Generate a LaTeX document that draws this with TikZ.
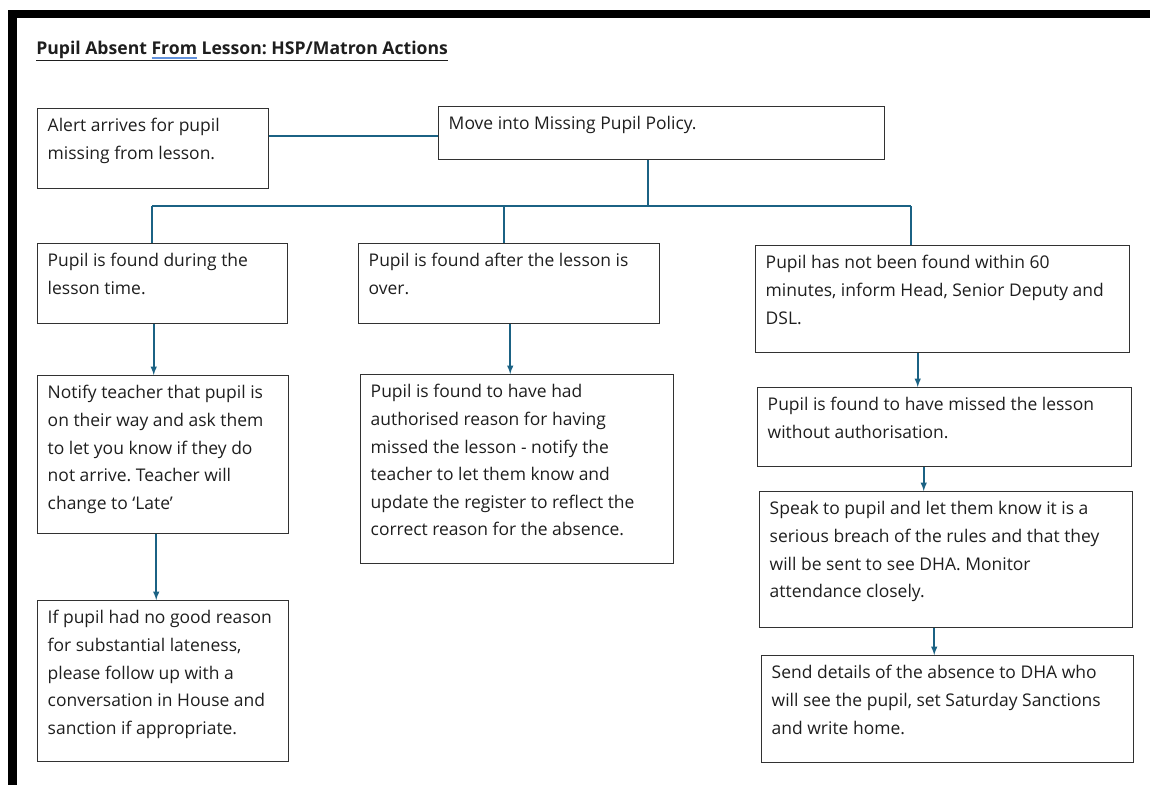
\documentclass[tikz,border=0pt]{standalone}
\usepackage{fontspec}
\setmainfont{Open Sans}
\frenchspacing
\definecolor{linkBlue}{RGB}{27,98,132}
\definecolor{boxGray}{RGB}{50,50,50}
\definecolor{spellBlue}{RGB}{98,146,222}
\definecolor{inkDark}{RGB}{30,30,30}
\newlength{\px}\setlength{\px}{0.75pt}
% box text: width, height (in px), lines
\newcommand{\boxtxt}[3]{\vbox to #2\px{\hsize=#1\px\leftskip=10\px\rightskip=0pt plus 1fil\parindent=0pt\parfillskip=0pt plus 1fil\baselineskip=27.6\px\vskip4.5\px\strut#3\par\vfil}}
\newcommand{\spellmark}[1]{\setbox0\hbox{#1}\rlap{\color{spellBlue}\rule[-3.6pt]{\wd0}{1.2pt}}#1}

\begin{document}
\begin{tikzpicture}[>=latex, x=0.75pt, y=-0.75pt,
  stepbox/.style={draw=boxGray, line width=1.1pt, anchor=north west, inner sep=0pt, text=inkDark,
    font=\fontsize{13.1pt}{20pt}\selectfont},
  link/.style={draw=linkBlue, line width=1.15pt},
  flow/.style={link, ->}]
\useasboundingbox (0,0) rectangle (1150,785);
\fill[black] (8,10) rectangle (1150,18);
\fill[black] (8,10) rectangle (17,785);

\node[anchor=base west, inner sep=0pt, text=inkDark, font=\fontsize{13.2pt}{15pt}\selectfont\bfseries] (title) at (36,54)
{\underline{Pupil Absent \spellmark{From} Lesson: HSP/Matron Actions}};

\node[stepbox] (alert) at (37,108) {\boxtxt{231}{80}{Alert arrives for pupil\\missing from lesson.}};
\node[stepbox] (policy) at (438,106) {\boxtxt{446}{53}{Move into Missing Pupil Policy.}};

\node[stepbox] (lesson) at (37,243) {\boxtxt{250}{80}{Pupil is found during the\\lesson time.}};
\node[stepbox] (after) at (358,243) {\boxtxt{301}{80}{Pupil is found after the lesson is\\over.}};
\node[stepbox] (sixty) at (755,245) {\boxtxt{374}{107}{Pupil has not been found within 60\\minutes, inform Head, Senior Deputy and\\DSL.}};

\node[stepbox] (notify) at (37,375) {\boxtxt{251}{158}{Notify teacher that pupil is\\on their way and ask them\\to let you know if they do\\not arrive. Teacher will\\change to ‘Late’}};
\node[stepbox] (reason) at (360,374) {\boxtxt{313}{189}{Pupil is found to have had\\authorised reason for having\\missed the lesson - notify the\\teacher to let them know and\\update the register to reflect the\\correct reason for the absence.}};
\node[stepbox] (unauth) at (757,387) {\boxtxt{374}{79}{Pupil is found to have missed the lesson\\without authorisation.}};
\node[stepbox] (speak) at (759,491) {\boxtxt{373}{136}{Speak to pupil and let them know it is a\\serious breach of the rules and that they\\will be sent to see DHA. Monitor\\attendance closely.}};

\node[stepbox] (followup) at (37,600) {\boxtxt{251}{161}{If pupil had no good reason\\for substantial lateness,\\please follow up with a\\conversation in House and\\sanction if appropriate.}};
\node[stepbox] (sendDHA) at (761,655) {\boxtxt{372}{107}{Send details of the absence to DHA who\\will see the pupil, set Saturday Sanctions\\and write home.}};

% bus from policy to the three cases
\coordinate (busL) at (152,206);
\coordinate (busM) at (504,206);
\coordinate (busC) at (648,206);
\coordinate (busR) at (911,206);
\draw[link] (alert.east |- 0,136) -- (policy.west |- 0,136);
\draw[link] (busC |- policy.south) -- (busC);
\draw[link] (busL) -- (busR);
\draw[link] (busL) -- (busL |- lesson.north);
\draw[link] (busM) -- (busM |- after.north);
\draw[link] (busR) -- (busR |- sixty.north);

\draw[flow] ([shift={(-9,0)}]lesson.south) -- ([shift={(-9,0)}]lesson.south |- notify.north);
\draw[flow] ([shift={(-7,0)}]notify.south) -- ([shift={(-7,0)}]notify.south |- followup.north);
\draw[flow] ([shift={(1,0)}]after.south) -- ([shift={(1,0)}]after.south |- reason.north);
\draw[flow] ([shift={(-25,0)}]sixty.south) -- ([shift={(-25,0)}]sixty.south |- unauth.north);
\draw[flow] ([shift={(-21,0)}]unauth.south) -- ([shift={(-21,0)}]unauth.south |- speak.north);
\draw[flow] ([shift={(-12,0)}]speak.south) -- ([shift={(-12,0)}]speak.south |- sendDHA.north);
\end{tikzpicture}
\end{document}
